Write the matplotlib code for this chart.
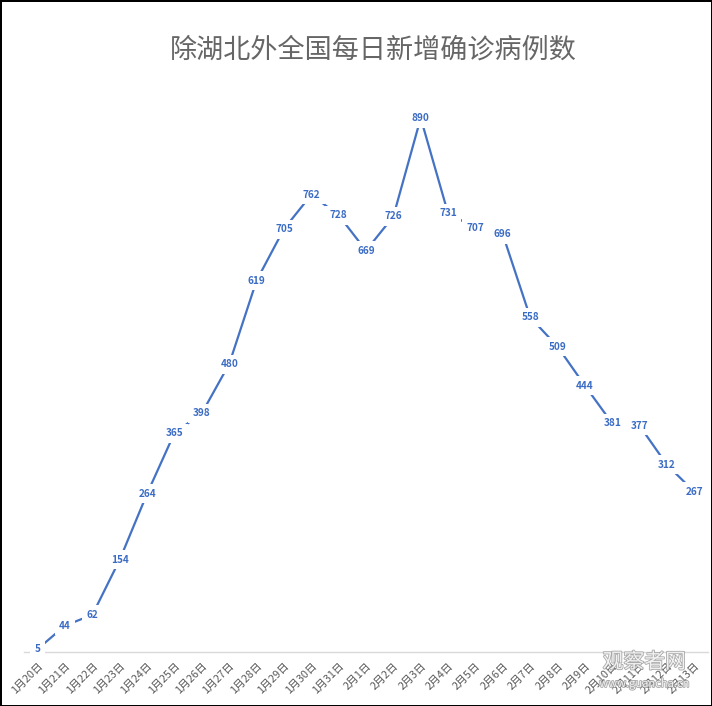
import matplotlib
matplotlib.use('Agg')
import matplotlib.pyplot as plt
import matplotlib.patheffects as pe

plt.rcParams['font.family'] = ['Noto Sans CJK SC', 'DejaVu Sans']

# 日期与每日新增确诊（除湖北外）
dates = [f'1月{d}日' for d in range(20, 32)] + [f'2月{d}日' for d in range(1, 14)]
cases = [5, 44, 62, 154, 264, 365, 398, 480, 619, 705, 762, 728, 669,
         726, 890, 731, 707, 696, 558, 509, 444, 381, 377, 312, 267]

LINE_BLUE = '#4472C4'
LABEL_BLUE = '#3B6CC4'
GRAY_TXT = '#595959'

fig = plt.figure(figsize=(7.12, 7.06), dpi=100, edgecolor='black', linewidth=2)
ax = fig.add_axes([24 / 712, 1 - 652 / 706, 684 / 712, 600 / 706])

x = list(range(len(cases)))
ax.plot(x, cases, color=LINE_BLUE, linewidth=1.6, zorder=2)

# 数据标签（白底遮挡折线，模拟 Excel 效果）
for xi, v in zip(x, cases):
    ax.text(xi, v, str(v), ha='center', va='center', fontsize=7.2,
            color=LABEL_BLUE, fontweight='semibold', zorder=3,
            bbox=dict(boxstyle='square,pad=0.45', facecolor='white', edgecolor='none'))

ax.set_xlim(-0.5, len(cases) - 0.5)
ax.set_ylim(0, 1000)

for s in ['top', 'right', 'left']:
    ax.spines[s].set_visible(False)
ax.spines['bottom'].set_color('#D9D9D9')
ax.spines['bottom'].set_linewidth(1.0)
ax.set_yticks([])
ax.set_xticks(x)
ax.set_xticklabels(dates, rotation=45, ha='right', rotation_mode='anchor',
                   fontsize=7.8, color=GRAY_TXT)
ax.tick_params(axis='x', length=0, pad=6)

fig.text(0.525, 1 - 50 / 706, '除湖北外全国每日新增确诊病例数', ha='center', va='center',
         fontsize=19.5, color='#666666')

# 水印
wm = [pe.withStroke(linewidth=1.2, foreground='#9A9A9A')]
fig.text(0.905, 1 - 662 / 706, '观察者网', ha='center', va='center', fontsize=15,
         color='white', alpha=0.85, zorder=5, path_effects=wm)
fig.text(0.905, 1 - 684 / 706, 'www.guancha.cn', ha='center', va='center', fontsize=8,
         color='white', alpha=0.85, zorder=5, path_effects=wm)

fig.savefig('out.png', dpi=100, facecolor='white', edgecolor=fig.get_edgecolor())
